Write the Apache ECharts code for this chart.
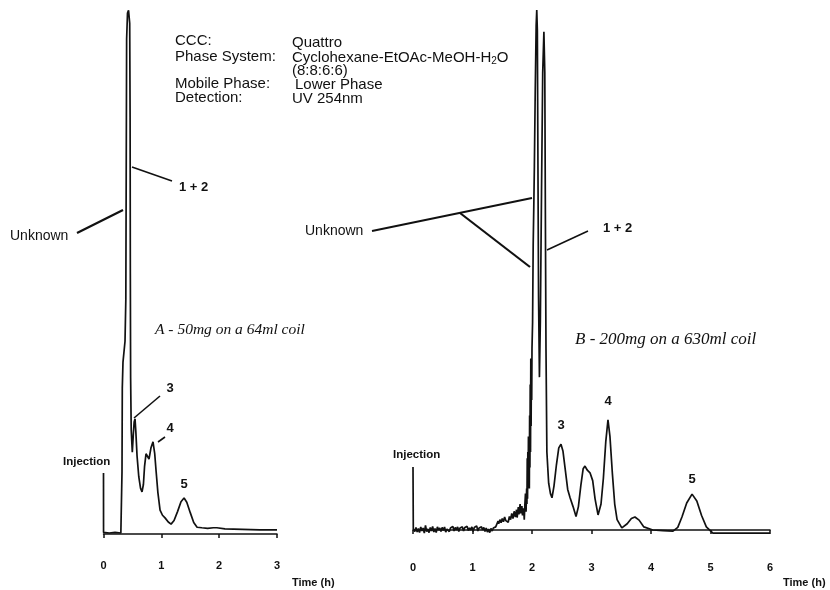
<!DOCTYPE html>
<html>
<head>
<meta charset="utf-8">
<script src="https://cdn.jsdelivr.net/npm/echarts@6/dist/echarts.min.js"></script>
<style>
  html, body { margin: 0; padding: 0; background: #fff; }
  #chart { width: 830px; height: 590px; }
</style>
</head>
<body>
<div id="chart"></div>
<script>
// Run A: 50 mg on a 64 ml coil — [time (h), detector response (relative units)]
const traceA = [
  [0, 11.7], [0.001, 0.3], [0.1, 0.2], [0.2, 0.3], [0.3, 0.2], [0.316, 0.4],
  [0.320, 12], [0.325, 28], [0.337, 33], [0.372, 37], [0.386, 45], [0.393, 70], [0.400, 95], [0.415, 100],
  [0.433, 100.5], [0.453, 98], [0.460, 80], [0.464, 50], [0.469, 30], [0.479, 20], [0.498, 15.7],
  [0.515, 19], [0.530, 21.5], [0.545, 22.1], [0.56, 19.5], [0.58, 15], [0.61, 11], [0.64, 8.8], [0.666, 8.1],
  [0.69, 9.5], [0.71, 13], [0.735, 15.4], [0.76, 15.2], [0.787, 14.4], [0.82, 16.5], [0.856, 17.7],
  [0.885, 15.5], [0.91, 12], [0.94, 8], [0.978, 4.6], [1.02, 3.6], [1.064, 3.1], [1.12, 2.3], [1.168, 1.9],
  [1.22, 2.6], [1.28, 4.3], [1.34, 6.2], [1.393, 6.9], [1.44, 6.1], [1.50, 4.1], [1.56, 2.2], [1.618, 1.3],
  [1.7, 1.2], [1.8, 1.1], [1.9, 1.2], [1.93, 1.4], [1.96, 1.2], [2.1, 1.0], [2.4, 0.9], [2.7, 0.8], [3.0, 0.8]
];

// Run B: 200 mg on a 630 ml coil — noisy baseline before elution
const traceBBaseline = [
  [0, 12.1], [0.005, 0.2], [0.03, -0.3], [0.05, 0.5], [0.07, -0.4], [0.09, 0.3], [0.11, -0.5], [0.13, 0.6],
  [0.15, -0.2], [0.17, 0.4], [0.19, -0.6], [0.21, 0.9], [0.23, -0.3], [0.25, 0.2], [0.27, -0.5], [0.29, 0.5],
  [0.31, -0.2], [0.33, 0.7], [0.35, -0.4], [0.37, 0.3], [0.39, -0.5], [0.41, 0.6], [0.43, 0.0], [0.45, 0.4],
  [0.47, -0.3], [0.49, 0.5], [0.51, -0.1], [0.53, 0.6], [0.55, -0.4], [0.57, 0.2], [0.59, 0.5], [0.61, -0.3],
  [0.63, 0.4], [0.65, 0.1], [0.67, 0.7], [0.69, -0.2], [0.71, 0.5], [0.73, 0.0], [0.75, 0.6], [0.77, -0.3],
  [0.79, 0.4], [0.81, 0.1], [0.83, 0.6], [0.85, -0.2], [0.87, 0.5], [0.89, 0.2], [0.91, 0.7], [0.93, -0.1],
  [0.95, 0.4], [0.97, 0.0], [0.99, 0.6], [1.01, -0.3], [1.03, 0.5], [1.05, 0.2], [1.07, 0.8], [1.09, -0.2],
  [1.11, 0.4], [1.13, 0.1], [1.15, 0.6], [1.17, 0.0], [1.19, 0.5], [1.21, -0.3], [1.23, 0.4], [1.25, -0.4],
  [1.27, 0.2], [1.29, -0.5], [1.31, 0.3], [1.33, -0.2], [1.35, 0.4], [1.37, 0.1], [1.39, 0.6], [1.41, 0.3],
  [1.43, 1.7], [1.44, 1.2], [1.46, 2.0], [1.48, 1.4], [1.50, 2.2], [1.52, 1.6], [1.54, 2.5], [1.56, 1.8],
  [1.58, 2.1], [1.60, 1.5], [1.62, 2.6], [1.64, 2.0], [1.66, 3.2], [1.68, 2.2], [1.70, 3.6], [1.72, 2.5],
  [1.74, 3.9], [1.75, 2.4], [1.77, 4.4], [1.78, 3.0], [1.80, 5.0], [1.81, 3.2], [1.83, 4.6], [1.84, 2.8],
  [1.86, 4.2], [1.87, 2.0], [1.88, 4.8]
];

// Run B: unresolved 1 + 2 / unknown band
const traceBMain = [
  [1.89, 7.0], [1.90, 3.5], [1.91, 8], [1.915, 5], [1.92, 13.8], [1.925, 6], [1.93, 15], [1.935, 9],
  [1.94, 18], [1.945, 10], [1.95, 14], [1.955, 8], [1.96, 22], [1.965, 12], [1.97, 28], [1.975, 15],
  [1.98, 33], [1.985, 20], [1.99, 32], [1.995, 25], [2.0, 35], [2.01, 40], [2.02, 55], [2.03, 62],
  [2.04, 70], [2.055, 85], [2.07, 97], [2.08, 100], [2.09, 96], [2.10, 70], [2.11, 45], [2.125, 29.4],
  [2.14, 40], [2.16, 65], [2.18, 88], [2.20, 95.8], [2.215, 88], [2.225, 60], [2.235, 35], [2.25, 15],
  [2.28, 9], [2.31, 7], [2.336, 6.2]
];

// Run B: peaks 3, 4, 5 and the tail
const traceBTail = [
  [2.37, 8.5], [2.41, 12.5], [2.45, 15.8], [2.487, 16.5], [2.52, 15.2], [2.56, 11.5], [2.60, 7.8], [2.64, 6.2],
  [2.69, 4.5], [2.74, 2.6], [2.78, 4.5], [2.82, 8.5], [2.86, 11.8], [2.89, 12.3], [2.93, 11.5], [2.975, 11.0],
  [3.02, 9.5], [3.06, 6], [3.11, 2.9], [3.16, 5], [3.20, 10], [3.24, 17], [3.277, 21.2], [3.31, 18],
  [3.35, 11], [3.39, 5], [3.43, 2], [3.51, 0.4], [3.6, 1.2], [3.67, 2.2], [3.73, 2.5], [3.80, 1.9],
  [3.88, 0.6], [4.03, 0], [4.2, -0.1], [4.37, -0.2], [4.45, 0.5], [4.52, 2.5], [4.60, 5.2], [4.69, 6.9],
  [4.77, 5.6], [4.85, 2.8], [4.93, 0.6], [5.04, -0.6], [5.3, -0.6], [5.6, -0.6], [6.0, -0.6]
];

const ticksA = { min: 0, max: 3, interval: 1 };
const ticksB = { min: 0, max: 6, interval: 1 };

const SANS = '"Liberation Sans", Arial, sans-serif';
const SERIF = '"Liberation Serif", "Times New Roman", serif';
const INK = '#111';

function timeAxis(gridIndex, t) {
  return {
    type: 'value', gridIndex: gridIndex, min: t.min, max: t.max, interval: t.interval,
    axisLine: { lineStyle: { color: INK, width: 1.5 } },
    axisTick: { show: true, length: 4, lineStyle: { color: INK, width: 1.5 } },
    axisLabel: { color: INK, fontFamily: SANS, fontWeight: 'bold', fontSize: 11, margin: 9 },
    splitLine: { show: false }
  };
}

function hiddenY(gridIndex, min, max) {
  return { type: 'value', gridIndex: gridIndex, min: min, max: max, show: false, splitLine: { show: false } };
}

function trace(idx, data) {
  return {
    type: 'line', xAxisIndex: idx, yAxisIndex: idx, data: data,
    showSymbol: false, symbol: 'none', smooth: false, clip: false,
    lineStyle: { color: INK, width: 1.7 }
  };
}

function txt(x, y, s, opt) {
  return {
    type: 'text', x: x, y: y, silent: true,
    style: Object.assign({ text: s, fill: INK, font: '15px ' + SANS, textVerticalAlign: 'middle' }, opt || {})
  };
}
function seg(x1, y1, x2, y2, w, dash) {
  return {
    type: 'line', silent: true,
    shape: { x1: x1, y1: y1, x2: x2, y2: y2 },
    style: { stroke: INK, lineWidth: w || 1.6, lineDash: dash || null }
  };
}

const boldNum = 'bold 13px ' + SANS;
const boldSmall = 'bold 11.5px ' + SANS;

const option = {
  animation: false,
  backgroundColor: '#fff',
  grid: [
    { left: 103.5, right: 553, top: 10, bottom: 39 },
    { left: 413, right: 60, top: 10, bottom: 37 }
  ],
  xAxis: [timeAxis(0, ticksA), timeAxis(1, ticksB)],
  yAxis: [hiddenY(0, -3.26, 100.58), hiddenY(1, -4.42, 100)],
  series: [
    trace(0, traceA),
    trace(1, traceBBaseline.concat(traceBMain, traceBTail))
  ],
  graphic: [
    // method block
    txt(175, 41, 'CCC:'),
    txt(292, 43, 'Quattro'),
    txt(175, 57, 'Phase System:'),
    {
      type: 'text', x: 292, y: 58, silent: true,
      style: {
        text: 'Cyclohexane-EtOAc-MeOH-H{s|2}O', fill: INK, font: '15px ' + SANS, textVerticalAlign: 'middle',
        rich: { s: { fontSize: 10, fontFamily: SANS, padding: [7, 0, 0, 0] } }
      }
    },
    txt(292, 71, '(8:8:6:6)'),
    txt(175, 84, 'Mobile Phase:'),
    txt(295, 85, 'Lower Phase'),
    txt(175, 98, 'Detection:'),
    txt(292, 99, 'UV 254nm'),

    // run A labels
    txt(10, 236, 'Unknown', { font: '14px ' + SANS }),
    seg(77, 233, 123, 210, 2.2),
    txt(179, 187, '1 + 2', { font: boldNum }),
    seg(132, 167, 172, 181, 1.6),
    txt(170, 388, '3', { font: boldNum, textAlign: 'center' }),
    seg(134, 418, 160, 396, 1.6),
    txt(170, 428, '4', { font: boldNum, textAlign: 'center' }),
    seg(158, 442, 165, 437, 1.6),
    txt(184, 484, '5', { font: boldNum, textAlign: 'center' }),
    txt(63, 462, 'Injection', { font: boldSmall }),
    txt(155, 330, 'A - 50mg on a 64ml coil', { font: 'italic 15.5px ' + SERIF }),
    txt(292, 583, 'Time (h)', { font: 'bold 11px ' + SANS }),

    // run B labels
    txt(305, 231, 'Unknown', { font: '14px ' + SANS }),
    seg(372, 231, 532, 198, 1.8),
    seg(460, 213, 530, 267, 2.2),
    txt(603, 228, '1 + 2', { font: boldNum }),
    seg(547, 250, 588, 231, 1.6),
    txt(561, 425, '3', { font: boldNum, textAlign: 'center' }),
    txt(608, 401, '4', { font: boldNum, textAlign: 'center' }),
    txt(692, 479, '5', { font: boldNum, textAlign: 'center' }),
    txt(393, 455, 'Injection', { font: boldSmall }),
    txt(575, 340, 'B - 200mg on a 630ml coil', { font: 'italic 17px ' + SERIF }),
    txt(783, 583, 'Time (h)', { font: 'bold 11px ' + SANS })
  ]
};

const chart = echarts.init(document.getElementById('chart'), null, { renderer: 'canvas' });
chart.setOption(option);
</script>
</body>
</html>
